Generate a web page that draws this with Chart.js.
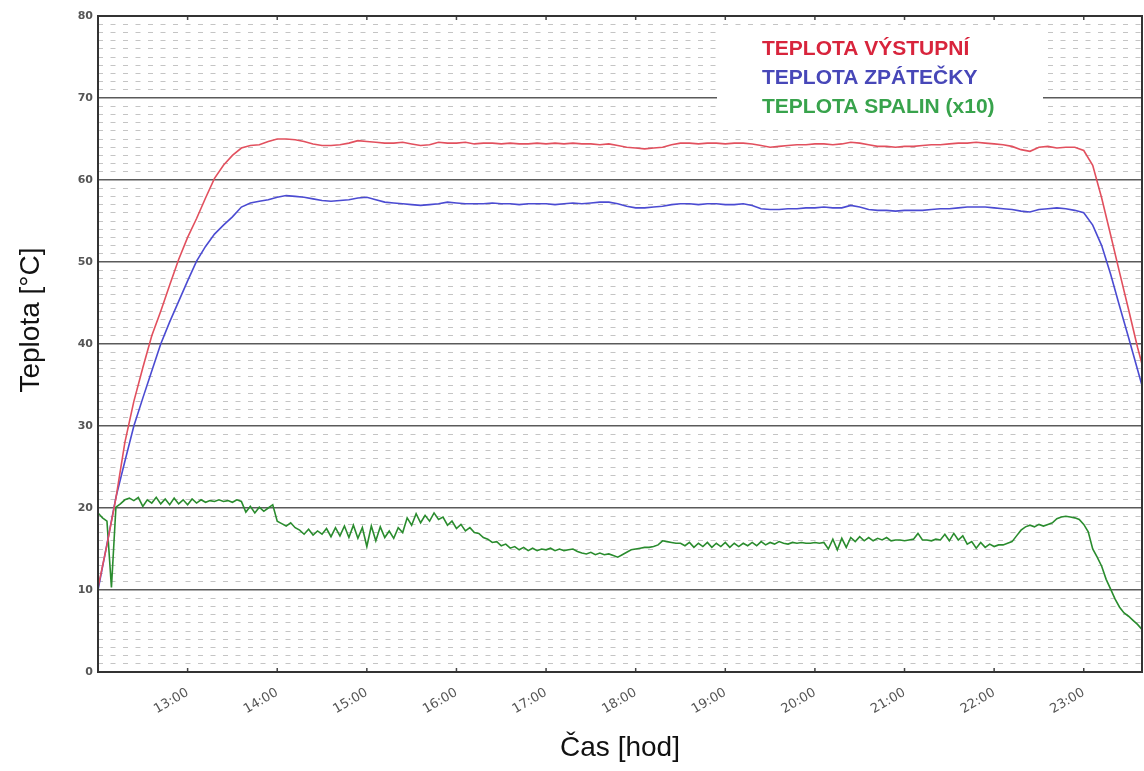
<!DOCTYPE html>
<html>
<head>
<meta charset="utf-8">
<title>Teplota</title>
<script src="https://cdn.jsdelivr.net/npm/chart.js@4.4.1/dist/chart.umd.min.js"></script>
<style>
  html, body { margin: 0; padding: 0; background: #fff; }
  #wrap { width: 1144px; height: 771px; }
</style>
</head>
<body>
<div id="wrap"><canvas id="tempChart" width="1144" height="771"></canvas></div>
<script>
// Sampling: first sample at 12:00, red/blue every 6 min, flue gas every 3 min
const startHour = 12;
const lineStep = 0.1;
const flueStep = 0.05;

// Teplota výstupní (°C), one row per hour
const supplyTemp = [
  10.3, 15.5, 21.2, 28.0, 33.0, 37.1, 41.0, 44.0, 47.2, 50.3,
  53.0, 55.3, 57.8, 60.2, 61.8, 63.0, 63.9, 64.2, 64.3, 64.7,
  65.0, 65.0, 64.9, 64.7, 64.4, 64.2, 64.2, 64.3, 64.5, 64.8,
  64.7, 64.6, 64.5, 64.5, 64.6, 64.4, 64.2, 64.3, 64.6, 64.5,
  64.5, 64.6, 64.4, 64.5, 64.5, 64.4, 64.5, 64.4, 64.4, 64.5,
  64.4, 64.5, 64.4, 64.5, 64.4, 64.4, 64.3, 64.4, 64.2, 64.0,
  63.9, 63.8, 63.9, 64.0, 64.3, 64.5, 64.5, 64.4, 64.5, 64.5,
  64.4, 64.5, 64.5, 64.4, 64.2, 64.0, 64.1, 64.2, 64.3, 64.3,
  64.4, 64.4, 64.3, 64.4, 64.6, 64.5, 64.3, 64.1, 64.1, 64.0,
  64.1, 64.1, 64.2, 64.3, 64.3, 64.4, 64.5, 64.5, 64.6, 64.5,
  64.4, 64.3, 64.1, 63.7, 63.5, 64.0, 64.1, 63.9, 64.0, 64.0,
  63.6, 61.8, 57.8, 53.3, 48.7, 44.2, 39.6, 35.5
];

// Teplota zpátečky (°C)
const returnTemp = [
  10.0, 15.6, 21.3, 25.7, 30.0, 33.4, 36.7, 40.0, 42.7, 45.2,
  47.7, 50.1, 51.9, 53.4, 54.5, 55.5, 56.7, 57.2, 57.4, 57.6,
  57.9, 58.1, 58.0, 57.9, 57.7, 57.5, 57.4, 57.5, 57.6, 57.8,
  57.9, 57.6, 57.3, 57.2, 57.1, 57.0, 56.9, 57.0, 57.1, 57.3,
  57.2, 57.1, 57.1, 57.1, 57.2, 57.1, 57.1, 57.0, 57.1, 57.1,
  57.1, 57.0, 57.1, 57.2, 57.1, 57.2, 57.3, 57.3, 57.1, 56.8,
  56.6, 56.6, 56.7, 56.8, 57.0, 57.1, 57.1, 57.0, 57.1, 57.1,
  57.0, 57.0, 57.1, 56.9, 56.5, 56.4, 56.4, 56.5, 56.5, 56.6,
  56.6, 56.7, 56.6, 56.6, 56.9, 56.7, 56.4, 56.3, 56.3, 56.2,
  56.3, 56.3, 56.3, 56.4, 56.5, 56.5, 56.6, 56.7, 56.7, 56.7,
  56.6, 56.5, 56.4, 56.2, 56.1, 56.4, 56.5, 56.6, 56.5, 56.3,
  56.0, 54.5, 52.0, 48.5, 44.6, 40.8, 36.9, 33.0
];

// Teplota spalin (x10), one row per hour
const flueTemp = [
  19.4, 18.8, 18.4, 10.3, 20.1, 20.5, 21.0, 21.2, 20.9, 21.3, 20.2, 21.0, 20.6, 21.3, 20.5, 21.1, 20.4, 21.2, 20.5, 21.0,
  20.4, 21.1, 20.6, 21.0, 20.7, 20.9, 20.8, 21.0, 20.8, 20.9, 20.7, 21.0, 20.8, 19.5, 20.2, 19.4, 20.1, 19.6, 20.0, 20.4,
  18.4, 18.1, 17.8, 18.2, 17.6, 17.3, 16.8, 17.4, 16.7, 17.2, 16.8, 17.5, 16.5, 17.6, 16.6, 17.8, 16.4, 17.9, 16.3, 17.6,
  15.3, 17.8, 16.0, 17.7, 16.4, 17.2, 16.3, 17.6, 17.0, 18.8, 17.9, 19.3, 18.2, 19.1, 18.4, 19.4, 18.6, 18.9, 17.9, 18.4,
  17.5, 18.0, 17.2, 17.6, 17.0, 16.9, 16.4, 16.2, 15.8, 15.9, 15.4, 15.6, 15.1, 15.3, 14.9, 15.2, 14.8, 15.1, 14.8, 15.0,
  14.9, 15.1, 14.8, 15.0, 14.8, 14.9, 15.0, 14.7, 14.5, 14.4, 14.6, 14.3, 14.5, 14.3, 14.4, 14.2, 14.0, 14.3, 14.6, 14.9,
  15.0, 15.1, 15.2, 15.2, 15.3, 15.5, 16.0, 15.9, 15.8, 15.7, 15.7, 15.4, 15.8, 15.2, 15.7, 15.3, 15.8, 15.2, 15.7, 15.3,
  15.8, 15.2, 15.7, 15.3, 15.7, 15.4, 15.8, 15.4, 15.9, 15.5, 15.8, 15.6, 15.9, 15.7, 15.6, 15.8, 15.7, 15.8, 15.7, 15.7,
  15.8, 15.7, 15.8, 15.0, 16.2, 14.9, 16.3, 15.2, 16.4, 15.9, 16.5, 16.0, 16.4, 16.0, 16.3, 16.1, 16.4, 16.0, 16.1, 16.1,
  16.0, 16.1, 16.2, 16.9, 16.1, 16.1, 16.0, 16.2, 16.1, 16.8, 16.0, 16.9, 16.1, 16.6, 15.6, 15.9, 15.1, 15.8, 15.2, 15.6,
  15.3, 15.5, 15.5, 15.7, 15.9, 16.6, 17.3, 17.7, 17.9, 17.7, 18.0, 17.8, 18.0, 18.2, 18.7, 18.9, 19.0, 18.9, 18.8, 18.6,
  18.0, 17.1, 15.0, 14.0, 12.9, 11.3, 10.1, 8.9, 7.9, 7.2, 6.8, 6.3, 5.8, 5.2, 4.8
];

const seriesLabels = ["TEPLOTA VÝSTUPNÍ", "TEPLOTA ZPÁTEČKY", "TEPLOTA SPALIN (x10)"];
const lineColors = ["#e2505e", "#4b4bd2", "#2a8c2e"];
const legendColors = ["#d8243c", "#4747b8", "#38a34c"];

// x axis hours, y axis degrees
const hourMin = 12;
const hourMax = 23.65;
const tempMin = 0;
const tempMax = 80;

function toPoints(values, step) {
    return values.map((v, i) => ({ x: startHour + i * step, y: v }));
}

const isMajor = (v) => Math.abs(v % 10) < 1e-6;

// extra drawing: legend box inside the plot, frame, inner ticks, axis titles
const plotExtras = {
    id: "plotExtras",
    beforeDatasetsDraw(chart) {
        const { ctx, chartArea: a } = chart;
        const boxX = a.right - 425, boxY = a.top + 9;
        ctx.save();
        ctx.fillStyle = "#ffffff";
        ctx.fillRect(boxX, boxY, 326, 99);
        ctx.font = 'bold 21px "Liberation Sans", Arial, sans-serif';
        ctx.textBaseline = "middle";
        ctx.textAlign = "left";
        chart.data.datasets.forEach((ds, i) => {
            ctx.fillStyle = legendColors[i];
            ctx.fillText(ds.label, boxX + 45, boxY + 24 + i * 29);
        });
        ctx.restore();
    },
    afterDraw(chart) {
        const { ctx, chartArea: a } = chart;
        const xs = chart.scales.x;
        ctx.save();
        // small inward ticks on top and bottom
        ctx.strokeStyle = "#444";
        ctx.lineWidth = 1.5;
        xs.ticks.forEach((t) => {
            const px = xs.getPixelForValue(t.value);
            ctx.beginPath();
            ctx.moveTo(px, a.bottom);
            ctx.lineTo(px, a.bottom - 4);
            ctx.moveTo(px, a.top);
            ctx.lineTo(px, a.top + 4);
            ctx.stroke();
        });
        // frame
        ctx.strokeStyle = "#333";
        ctx.lineWidth = 2;
        ctx.strokeRect(a.left, a.top, a.right - a.left, a.bottom - a.top);
        // axis titles
        ctx.fillStyle = "#111";
        ctx.font = '28px "Liberation Sans", Arial, sans-serif';
        ctx.textAlign = "center";
        ctx.textBaseline = "middle";
        ctx.fillText("Čas [hod]", (a.left + a.right) / 2, a.bottom + 76);
        ctx.translate(a.left - 67, (a.top + a.bottom) / 2 - 24);
        ctx.rotate(-Math.PI / 2);
        ctx.fillText("Teplota [°C]", 0, 0);
        ctx.restore();
    }
};

const ctx = document.getElementById("tempChart").getContext("2d");
const tempChart = new Chart(ctx, {
    type: "line",
    data: {
        datasets: [
            { label: seriesLabels[0], data: toPoints(supplyTemp, lineStep), borderColor: lineColors[0], borderWidth: 1.6 },
            { label: seriesLabels[1], data: toPoints(returnTemp, lineStep), borderColor: lineColors[1], borderWidth: 1.6 },
            { label: seriesLabels[2], data: toPoints(flueTemp, flueStep), borderColor: lineColors[2], borderWidth: 1.6 }
        ]
    },
    options: {
        responsive: false,
        animation: false,
        layout: { padding: { top: 16, right: 2, left: 0, bottom: 0 } },
        elements: { point: { radius: 0 }, line: { tension: 0 } },
        plugins: {
            legend: { display: false },
            tooltip: { enabled: false }
        },
        scales: {
            x: {
                type: "linear",
                min: hourMin,
                max: hourMax,
                afterFit: (s) => { s.height = 99; },
                afterBuildTicks: (s) => {
                    s.ticks = s.ticks.filter((t) => t.value > 12.5 && Math.abs(t.value - Math.round(t.value)) < 1e-6);
                },
                ticks: {
                    stepSize: 1,
                    includeBounds: false,
                    autoSkip: false,
                    minRotation: 30,
                    maxRotation: 30,
                    padding: 5,
                    color: "#555",
                    font: { family: '"DejaVu Sans", sans-serif', size: 13 },
                    callback: (v) => Math.round(v) + ":00"
                },
                grid: { display: false },
                border: { display: false }
            },
            y: {
                min: tempMin,
                max: tempMax,
                afterFit: (s) => { s.width = 98; },
                ticks: {
                    stepSize: 1,
                    autoSkip: false,
                    padding: 5,
                    color: "#555",
                    font: { family: '"DejaVu Sans", sans-serif', size: 11, weight: "bold" },
                    callback: (v) => (isMajor(v) ? v : "")
                },
                grid: {
                    drawTicks: false,
                    color: (c) => (c.tick && isMajor(c.tick.value) ? "#5a5a5a" : "#c4c4c4"),
                    lineWidth: (c) => (c.tick && isMajor(c.tick.value) ? 1.6 : 1)
                },
                border: {
                    display: false,
                    dash: (c) => (c.tick && !isMajor(c.tick.value) ? [5, 7.5] : [])
                }
            }
        }
    },
    plugins: [plotExtras]
});
</script>
</body>
</html>
